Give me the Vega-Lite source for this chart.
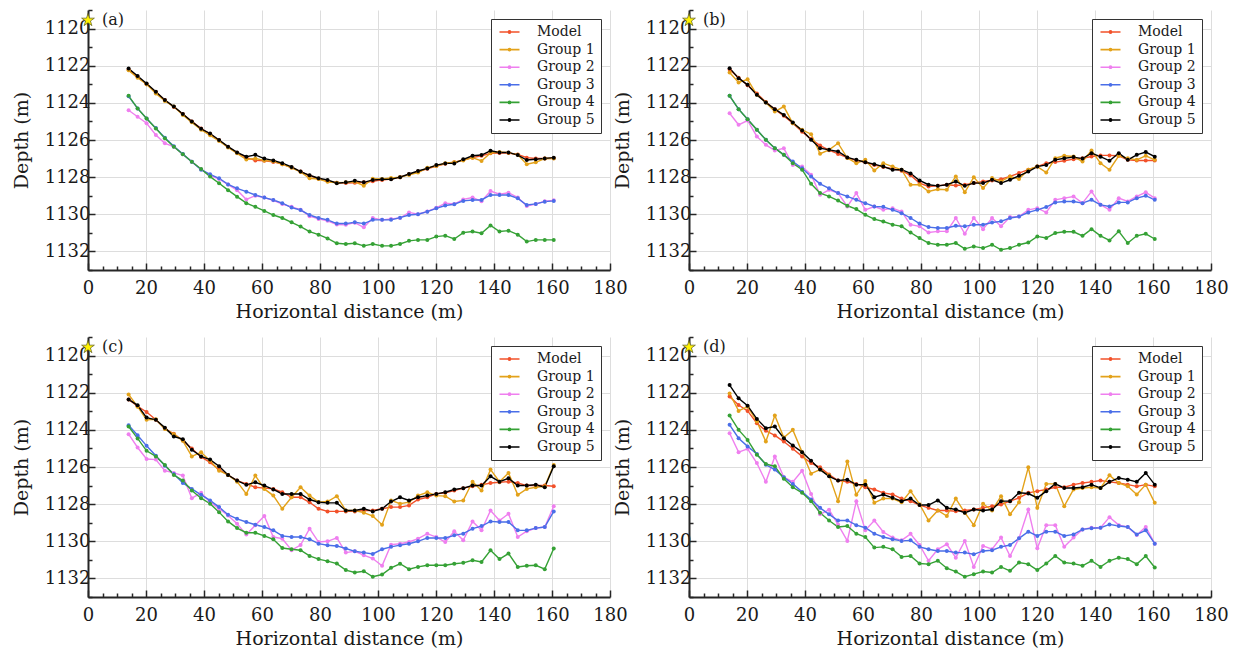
{
"$schema":"https://vega.github.io/schema/vega-lite/v6.json",
"background":"white",
"padding":{"left":12,"top":1,"right":5,"bottom":5},
"datasets":{
"src":[{"p":"a","x":0,"y":1119.55,"label":"(a)"},{"p":"b","x":0,"y":1119.55,"label":"(b)"},{"p":"c","x":0,"y":1119.55,"label":"(c)"},{"p":"d","x":0,"y":1119.55,"label":"(d)"}],
"curves":[
{"p":"a","x":14.0,"m":1122.2,"g1":1122.25,"g2":1124.4,"g3":1123.65,"g4":1123.62,"g5":1122.15},
{"p":"a","x":17.1,"m":1122.6,"g1":1122.65,"g2":1124.75,"g3":1124.3,"g4":1124.3,"g5":1122.55},
{"p":"a","x":20.2,"m":1123.0,"g1":1123.0,"g2":1125.1,"g3":1124.84,"g4":1124.84,"g5":1122.96},
{"p":"a","x":23.4,"m":1123.42,"g1":1123.5,"g2":1125.73,"g3":1125.36,"g4":1125.38,"g5":1123.4},
{"p":"a","x":26.5,"m":1123.85,"g1":1123.9,"g2":1126.18,"g3":1125.88,"g4":1125.9,"g5":1123.85},
{"p":"a","x":29.6,"m":1124.22,"g1":1124.2,"g2":1126.36,"g3":1126.34,"g4":1126.36,"g5":1124.2},
{"p":"a","x":32.7,"m":1124.6,"g1":1124.65,"g2":1126.77,"g3":1126.76,"g4":1126.77,"g5":1124.6},
{"p":"a","x":35.8,"m":1125.0,"g1":1125.05,"g2":1127.17,"g3":1127.17,"g4":1127.17,"g5":1125.0},
{"p":"a","x":39.0,"m":1125.38,"g1":1125.45,"g2":1127.58,"g3":1127.6,"g4":1127.56,"g5":1125.4},
{"p":"a","x":42.1,"m":1125.68,"g1":1125.75,"g2":1127.9,"g3":1127.85,"g4":1127.97,"g5":1125.65},
{"p":"a","x":45.2,"m":1126.02,"g1":1126.05,"g2":1128.1,"g3":1128.06,"g4":1128.33,"g5":1126.0},
{"p":"a","x":48.3,"m":1126.38,"g1":1126.4,"g2":1128.4,"g3":1128.39,"g4":1128.7,"g5":1126.36},
{"p":"a","x":51.4,"m":1126.68,"g1":1126.72,"g2":1128.7,"g3":1128.6,"g4":1129.05,"g5":1126.67},
{"p":"a","x":54.6,"m":1126.95,"g1":1127.05,"g2":1129.2,"g3":1128.78,"g4":1129.4,"g5":1126.9},
{"p":"a","x":57.7,"m":1127.1,"g1":1127.0,"g2":1129.0,"g3":1128.96,"g4":1129.6,"g5":1126.8},
{"p":"a","x":60.8,"m":1127.12,"g1":1127.1,"g2":1129.1,"g3":1129.1,"g4":1129.82,"g5":1127.0},
{"p":"a","x":63.9,"m":1127.18,"g1":1127.15,"g2":1129.25,"g3":1129.23,"g4":1130.04,"g5":1127.1},
{"p":"a","x":67.0,"m":1127.3,"g1":1127.3,"g2":1129.45,"g3":1129.4,"g4":1130.2,"g5":1127.25},
{"p":"a","x":70.2,"m":1127.48,"g1":1127.5,"g2":1129.6,"g3":1129.64,"g4":1130.43,"g5":1127.45},
{"p":"a","x":73.3,"m":1127.7,"g1":1127.72,"g2":1129.75,"g3":1129.77,"g4":1130.66,"g5":1127.7},
{"p":"a","x":76.4,"m":1127.92,"g1":1128.06,"g2":1130.1,"g3":1130.04,"g4":1130.93,"g5":1127.9},
{"p":"a","x":79.5,"m":1128.08,"g1":1128.1,"g2":1130.25,"g3":1130.2,"g4":1131.1,"g5":1128.06},
{"p":"a","x":82.6,"m":1128.22,"g1":1128.25,"g2":1130.35,"g3":1130.3,"g4":1131.3,"g5":1128.15},
{"p":"a","x":85.8,"m":1128.3,"g1":1128.3,"g2":1130.55,"g3":1130.5,"g4":1131.56,"g5":1128.33},
{"p":"a","x":88.9,"m":1128.32,"g1":1128.28,"g2":1130.57,"g3":1130.5,"g4":1131.6,"g5":1128.28},
{"p":"a","x":92.0,"m":1128.3,"g1":1128.25,"g2":1130.45,"g3":1130.43,"g4":1131.56,"g5":1128.2},
{"p":"a","x":95.1,"m":1128.28,"g1":1128.46,"g2":1130.7,"g3":1130.5,"g4":1131.7,"g5":1128.28},
{"p":"a","x":98.2,"m":1128.22,"g1":1128.08,"g2":1130.2,"g3":1130.3,"g4":1131.6,"g5":1128.15},
{"p":"a","x":101.4,"m":1128.15,"g1":1128.1,"g2":1130.3,"g3":1130.3,"g4":1131.7,"g5":1128.12},
{"p":"a","x":104.5,"m":1128.1,"g1":1128.05,"g2":1130.25,"g3":1130.3,"g4":1131.7,"g5":1128.12},
{"p":"a","x":107.6,"m":1128.0,"g1":1128.0,"g2":1130.2,"g3":1130.18,"g4":1131.6,"g5":1128.0},
{"p":"a","x":110.7,"m":1127.85,"g1":1127.88,"g2":1129.9,"g3":1130.04,"g4":1131.43,"g5":1127.83},
{"p":"a","x":113.8,"m":1127.7,"g1":1127.75,"g2":1130.0,"g3":1130.0,"g4":1131.38,"g5":1127.67},
{"p":"a","x":117.0,"m":1127.55,"g1":1127.5,"g2":1129.85,"g3":1129.86,"g4":1131.38,"g5":1127.53},
{"p":"a","x":120.1,"m":1127.4,"g1":1127.4,"g2":1129.65,"g3":1129.68,"g4":1131.2,"g5":1127.35},
{"p":"a","x":123.2,"m":1127.28,"g1":1127.25,"g2":1129.4,"g3":1129.53,"g4":1131.15,"g5":1127.26},
{"p":"a","x":126.3,"m":1127.2,"g1":1127.2,"g2":1129.45,"g3":1129.46,"g4":1131.33,"g5":1127.26},
{"p":"a","x":129.4,"m":1127.08,"g1":1127.1,"g2":1129.2,"g3":1129.28,"g4":1130.99,"g5":1127.04},
{"p":"a","x":132.6,"m":1126.95,"g1":1126.95,"g2":1129.1,"g3":1129.23,"g4":1130.93,"g5":1126.85},
{"p":"a","x":135.7,"m":1126.85,"g1":1127.13,"g2":1129.3,"g3":1129.23,"g4":1131.02,"g5":1126.81},
{"p":"a","x":138.8,"m":1126.72,"g1":1126.7,"g2":1128.75,"g3":1128.96,"g4":1130.6,"g5":1126.58},
{"p":"a","x":141.9,"m":1126.7,"g1":1126.65,"g2":1128.92,"g3":1128.96,"g4":1130.93,"g5":1126.67},
{"p":"a","x":145.0,"m":1126.7,"g1":1126.68,"g2":1128.84,"g3":1128.96,"g4":1130.88,"g5":1126.67},
{"p":"a","x":148.2,"m":1126.78,"g1":1126.8,"g2":1129.1,"g3":1129.14,"g4":1131.1,"g5":1126.81},
{"p":"a","x":151.3,"m":1126.95,"g1":1127.3,"g2":1129.55,"g3":1129.5,"g4":1131.47,"g5":1127.08},
{"p":"a","x":154.4,"m":1127.0,"g1":1127.2,"g2":1129.45,"g3":1129.44,"g4":1131.38,"g5":1127.04},
{"p":"a","x":157.5,"m":1127.0,"g1":1127.0,"g2":1129.3,"g3":1129.32,"g4":1131.38,"g5":1126.99},
{"p":"a","x":160.6,"m":1126.98,"g1":1127.0,"g2":1129.25,"g3":1129.28,"g4":1131.38,"g5":1126.95},
{"p":"b","x":14.0,"m":1122.2,"g1":1122.37,"g2":1124.56,"g3":1123.62,"g4":1123.62,"g5":1122.13},
{"p":"b","x":17.1,"m":1122.65,"g1":1122.9,"g2":1125.18,"g3":1124.34,"g4":1124.34,"g5":1122.67},
{"p":"b","x":20.2,"m":1123.05,"g1":1122.73,"g2":1124.95,"g3":1124.88,"g4":1124.88,"g5":1123.03},
{"p":"b","x":23.4,"m":1123.5,"g1":1123.57,"g2":1125.81,"g3":1125.45,"g4":1125.45,"g5":1123.57},
{"p":"b","x":26.5,"m":1123.95,"g1":1123.98,"g2":1126.26,"g3":1125.99,"g4":1125.99,"g5":1123.98},
{"p":"b","x":29.6,"m":1124.35,"g1":1124.47,"g2":1126.56,"g3":1126.44,"g4":1126.44,"g5":1124.34},
{"p":"b","x":32.7,"m":1124.7,"g1":1124.2,"g2":1126.45,"g3":1126.8,"g4":1126.8,"g5":1124.65},
{"p":"b","x":35.8,"m":1125.1,"g1":1125.1,"g2":1127.34,"g3":1127.16,"g4":1127.25,"g5":1125.06},
{"p":"b","x":39.0,"m":1125.55,"g1":1125.45,"g2":1127.43,"g3":1127.52,"g4":1127.6,"g5":1125.49},
{"p":"b","x":42.1,"m":1125.95,"g1":1125.69,"g2":1127.87,"g3":1127.96,"g4":1128.36,"g5":1125.99},
{"p":"b","x":45.2,"m":1126.3,"g1":1126.74,"g2":1128.95,"g3":1128.36,"g4":1128.86,"g5":1126.44},
{"p":"b","x":48.3,"m":1126.55,"g1":1126.53,"g2":1128.68,"g3":1128.6,"g4":1129.04,"g5":1126.53},
{"p":"b","x":51.4,"m":1126.75,"g1":1126.17,"g2":1128.86,"g3":1128.86,"g4":1129.26,"g5":1126.62},
{"p":"b","x":54.6,"m":1126.95,"g1":1126.97,"g2":1129.58,"g3":1129.04,"g4":1129.54,"g5":1126.94},
{"p":"b","x":57.7,"m":1127.1,"g1":1127.25,"g2":1128.86,"g3":1129.22,"g4":1129.72,"g5":1127.07},
{"p":"b","x":60.8,"m":1127.2,"g1":1127.07,"g2":1129.76,"g3":1129.4,"g4":1130.03,"g5":1127.2},
{"p":"b","x":63.9,"m":1127.35,"g1":1127.64,"g2":1129.58,"g3":1129.58,"g4":1130.26,"g5":1127.3},
{"p":"b","x":67.0,"m":1127.45,"g1":1127.25,"g2":1129.76,"g3":1129.6,"g4":1130.39,"g5":1127.43},
{"p":"b","x":70.2,"m":1127.55,"g1":1127.43,"g2":1129.67,"g3":1129.76,"g4":1130.56,"g5":1127.6},
{"p":"b","x":73.3,"m":1127.65,"g1":1127.6,"g2":1129.85,"g3":1129.94,"g4":1130.65,"g5":1127.6},
{"p":"b","x":76.4,"m":1127.9,"g1":1128.41,"g2":1130.56,"g3":1130.2,"g4":1130.98,"g5":1127.8},
{"p":"b","x":79.5,"m":1128.32,"g1":1128.41,"g2":1130.65,"g3":1130.5,"g4":1131.28,"g5":1128.18},
{"p":"b","x":82.6,"m":1128.5,"g1":1128.77,"g2":1130.98,"g3":1130.69,"g4":1131.55,"g5":1128.41},
{"p":"b","x":85.8,"m":1128.47,"g1":1128.65,"g2":1130.92,"g3":1130.74,"g4":1131.64,"g5":1128.47},
{"p":"b","x":88.9,"m":1128.41,"g1":1128.68,"g2":1130.92,"g3":1130.74,"g4":1131.64,"g5":1128.41},
{"p":"b","x":92.0,"m":1128.45,"g1":1127.96,"g2":1130.2,"g3":1130.62,"g4":1131.55,"g5":1128.23},
{"p":"b","x":95.1,"m":1128.41,"g1":1128.82,"g2":1131.05,"g3":1130.65,"g4":1131.86,"g5":1128.47},
{"p":"b","x":98.2,"m":1128.32,"g1":1128.0,"g2":1130.2,"g3":1130.56,"g4":1131.73,"g5":1128.32},
{"p":"b","x":101.4,"m":1128.23,"g1":1128.59,"g2":1130.8,"g3":1130.56,"g4":1131.82,"g5":1128.32},
{"p":"b","x":104.5,"m":1128.18,"g1":1128.05,"g2":1130.2,"g3":1130.44,"g4":1131.64,"g5":1128.14},
{"p":"b","x":107.6,"m":1128.11,"g1":1128.23,"g2":1130.65,"g3":1130.38,"g4":1131.91,"g5":1128.32},
{"p":"b","x":110.7,"m":1127.96,"g1":1127.96,"g2":1130.15,"g3":1130.2,"g4":1131.82,"g5":1128.14},
{"p":"b","x":113.8,"m":1127.78,"g1":1128.1,"g2":1130.12,"g3":1130.12,"g4":1131.64,"g5":1127.93},
{"p":"b","x":117.0,"m":1127.6,"g1":1127.6,"g2":1129.76,"g3":1129.9,"g4":1131.52,"g5":1127.7},
{"p":"b","x":120.1,"m":1127.43,"g1":1127.43,"g2":1129.67,"g3":1129.76,"g4":1131.19,"g5":1127.43},
{"p":"b","x":123.2,"m":1127.25,"g1":1127.75,"g2":1129.9,"g3":1129.61,"g4":1131.28,"g5":1127.34},
{"p":"b","x":126.3,"m":1127.19,"g1":1126.98,"g2":1129.22,"g3":1129.36,"g4":1131.01,"g5":1127.07},
{"p":"b","x":129.4,"m":1127.12,"g1":1126.85,"g2":1129.13,"g3":1129.31,"g4":1130.94,"g5":1126.98},
{"p":"b","x":132.6,"m":1127.03,"g1":1126.89,"g2":1129.04,"g3":1129.31,"g4":1130.94,"g5":1126.92},
{"p":"b","x":135.7,"m":1126.98,"g1":1127.16,"g2":1129.4,"g3":1129.4,"g4":1131.16,"g5":1127.0},
{"p":"b","x":138.8,"m":1126.89,"g1":1126.56,"g2":1128.77,"g3":1129.22,"g4":1130.8,"g5":1126.71},
{"p":"b","x":141.9,"m":1126.83,"g1":1127.25,"g2":1129.49,"g3":1129.49,"g4":1131.16,"g5":1126.9},
{"p":"b","x":145.0,"m":1126.83,"g1":1127.6,"g2":1129.76,"g3":1129.58,"g4":1131.41,"g5":1127.12},
{"p":"b","x":148.2,"m":1126.85,"g1":1126.85,"g2":1129.13,"g3":1129.36,"g4":1130.92,"g5":1126.71},
{"p":"b","x":151.3,"m":1127.07,"g1":1126.98,"g2":1129.31,"g3":1129.36,"g4":1131.55,"g5":1127.07},
{"p":"b","x":154.4,"m":1127.1,"g1":1127.07,"g2":1129.04,"g3":1129.13,"g4":1131.16,"g5":1126.8},
{"p":"b","x":157.5,"m":1127.1,"g1":1126.85,"g2":1128.82,"g3":1129.0,"g4":1131.05,"g5":1126.65},
{"p":"b","x":160.6,"m":1127.1,"g1":1127.07,"g2":1129.13,"g3":1129.22,"g4":1131.33,"g5":1126.9},
{"p":"c","x":14.0,"m":1122.36,"g1":1122.09,"g2":1124.23,"g3":1123.75,"g4":1123.82,"g5":1122.36},
{"p":"c","x":17.1,"m":1122.73,"g1":1122.75,"g2":1124.95,"g3":1124.29,"g4":1124.46,"g5":1122.68},
{"p":"c","x":20.2,"m":1123.04,"g1":1123.46,"g2":1125.57,"g3":1124.86,"g4":1125.13,"g5":1123.34},
{"p":"c","x":23.4,"m":1123.46,"g1":1123.43,"g2":1125.6,"g3":1125.39,"g4":1125.43,"g5":1123.46},
{"p":"c","x":26.5,"m":1123.93,"g1":1123.96,"g2":1126.2,"g3":1125.93,"g4":1125.89,"g5":1123.88},
{"p":"c","x":29.6,"m":1124.21,"g1":1124.23,"g2":1126.32,"g3":1126.38,"g4":1126.43,"g5":1124.36},
{"p":"c","x":32.7,"m":1124.57,"g1":1124.59,"g2":1126.46,"g3":1126.86,"g4":1126.73,"g5":1124.5},
{"p":"c","x":35.8,"m":1125.0,"g1":1125.43,"g2":1127.68,"g3":1127.18,"g4":1127.27,"g5":1125.07},
{"p":"c","x":39.0,"m":1125.46,"g1":1125.21,"g2":1127.39,"g3":1127.5,"g4":1127.68,"g5":1125.43},
{"p":"c","x":42.1,"m":1125.75,"g1":1125.66,"g2":1127.89,"g3":1127.8,"g4":1127.98,"g5":1125.6},
{"p":"c","x":45.2,"m":1126.14,"g1":1126.2,"g2":1128.25,"g3":1128.16,"g4":1128.43,"g5":1125.96},
{"p":"c","x":48.3,"m":1126.43,"g1":1126.43,"g2":1128.61,"g3":1128.57,"g4":1128.93,"g5":1126.43},
{"p":"c","x":51.4,"m":1126.73,"g1":1126.79,"g2":1129.05,"g3":1128.79,"g4":1129.29,"g5":1126.73},
{"p":"c","x":54.6,"m":1126.91,"g1":1127.45,"g2":1129.64,"g3":1128.96,"g4":1129.54,"g5":1126.96},
{"p":"c","x":57.7,"m":1127.09,"g1":1126.46,"g2":1129.14,"g3":1129.11,"g4":1129.54,"g5":1126.82},
{"p":"c","x":60.8,"m":1127.14,"g1":1127.18,"g2":1128.64,"g3":1129.23,"g4":1129.71,"g5":1127.0},
{"p":"c","x":63.9,"m":1127.18,"g1":1127.54,"g2":1129.77,"g3":1129.41,"g4":1129.89,"g5":1127.21},
{"p":"c","x":67.0,"m":1127.36,"g1":1128.25,"g2":1129.86,"g3":1129.71,"g4":1130.36,"g5":1127.45},
{"p":"c","x":70.2,"m":1127.63,"g1":1127.63,"g2":1130.48,"g3":1129.77,"g4":1130.43,"g5":1127.45},
{"p":"c","x":73.3,"m":1127.63,"g1":1127.09,"g2":1130.2,"g3":1129.77,"g4":1130.48,"g5":1127.45},
{"p":"c","x":76.4,"m":1127.9,"g1":1127.54,"g2":1129.32,"g3":1129.89,"g4":1130.79,"g5":1127.75},
{"p":"c","x":79.5,"m":1128.25,"g1":1127.89,"g2":1130.04,"g3":1130.13,"g4":1130.96,"g5":1127.9},
{"p":"c","x":82.6,"m":1128.39,"g1":1127.86,"g2":1130.0,"g3":1130.21,"g4":1131.07,"g5":1127.93},
{"p":"c","x":85.8,"m":1128.39,"g1":1127.57,"g2":1129.82,"g3":1130.25,"g4":1131.2,"g5":1127.93},
{"p":"c","x":88.9,"m":1128.39,"g1":1128.34,"g2":1130.61,"g3":1130.39,"g4":1131.55,"g5":1128.34},
{"p":"c","x":92.0,"m":1128.39,"g1":1128.34,"g2":1130.54,"g3":1130.54,"g4":1131.68,"g5":1128.34},
{"p":"c","x":95.1,"m":1128.34,"g1":1128.46,"g2":1130.75,"g3":1130.61,"g4":1131.61,"g5":1128.25},
{"p":"c","x":98.2,"m":1128.34,"g1":1128.64,"g2":1130.93,"g3":1130.68,"g4":1131.91,"g5":1128.39},
{"p":"c","x":101.4,"m":1128.25,"g1":1129.11,"g2":1131.32,"g3":1130.43,"g4":1131.79,"g5":1128.25},
{"p":"c","x":104.5,"m":1128.16,"g1":1127.8,"g2":1130.18,"g3":1130.3,"g4":1131.43,"g5":1127.86},
{"p":"c","x":107.6,"m":1128.16,"g1":1127.98,"g2":1130.13,"g3":1130.21,"g4":1131.21,"g5":1127.63},
{"p":"c","x":110.7,"m":1128.07,"g1":1127.89,"g2":1130.04,"g3":1130.13,"g4":1131.5,"g5":1127.8},
{"p":"c","x":113.8,"m":1127.75,"g1":1127.54,"g2":1129.86,"g3":1130.0,"g4":1131.38,"g5":1127.63},
{"p":"c","x":117.0,"m":1127.63,"g1":1127.36,"g2":1129.59,"g3":1129.82,"g4":1131.29,"g5":1127.54},
{"p":"c","x":120.1,"m":1127.45,"g1":1127.54,"g2":1129.77,"g3":1129.82,"g4":1131.29,"g5":1127.45},
{"p":"c","x":123.2,"m":1127.39,"g1":1127.57,"g2":1130.04,"g3":1129.82,"g4":1131.29,"g5":1127.36},
{"p":"c","x":126.3,"m":1127.27,"g1":1127.86,"g2":1129.46,"g3":1129.68,"g4":1131.21,"g5":1127.21},
{"p":"c","x":129.4,"m":1127.14,"g1":1127.8,"g2":1129.95,"g3":1129.59,"g4":1131.16,"g5":1127.14},
{"p":"c","x":132.6,"m":1127.04,"g1":1126.79,"g2":1128.93,"g3":1129.32,"g4":1131.02,"g5":1127.0},
{"p":"c","x":135.7,"m":1126.96,"g1":1127.27,"g2":1129.41,"g3":1129.18,"g4":1131.11,"g5":1127.0},
{"p":"c","x":138.8,"m":1126.86,"g1":1126.14,"g2":1128.34,"g3":1128.93,"g4":1130.48,"g5":1126.5},
{"p":"c","x":141.9,"m":1126.82,"g1":1126.79,"g2":1128.88,"g3":1128.96,"g4":1130.96,"g5":1126.79},
{"p":"c","x":145.0,"m":1126.79,"g1":1126.32,"g2":1128.52,"g3":1128.96,"g4":1130.66,"g5":1126.61},
{"p":"c","x":148.2,"m":1126.86,"g1":1127.5,"g2":1129.77,"g3":1129.41,"g4":1131.38,"g5":1127.0},
{"p":"c","x":151.3,"m":1127.0,"g1":1127.18,"g2":1129.46,"g3":1129.41,"g4":1131.32,"g5":1127.0},
{"p":"c","x":154.4,"m":1127.0,"g1":1127.09,"g2":1129.29,"g3":1129.29,"g4":1131.29,"g5":1126.96},
{"p":"c","x":157.5,"m":1127.0,"g1":1127.04,"g2":1129.23,"g3":1129.23,"g4":1131.5,"g5":1127.09},
{"p":"c","x":160.6,"m":1127.04,"g1":1125.89,"g2":1128.11,"g3":1128.39,"g4":1130.39,"g5":1125.96},
{"p":"d","x":14.0,"m":1122.21,"g1":1122.04,"g2":1124.18,"g3":1123.73,"g4":1123.23,"g5":1121.59},
{"p":"d","x":17.1,"m":1122.66,"g1":1122.98,"g2":1125.2,"g3":1124.45,"g4":1124.0,"g5":1122.3},
{"p":"d","x":20.2,"m":1122.98,"g1":1122.75,"g2":1125.02,"g3":1124.89,"g4":1124.54,"g5":1122.7},
{"p":"d","x":23.4,"m":1123.64,"g1":1123.55,"g2":1125.79,"g3":1125.3,"g4":1125.34,"g5":1123.41},
{"p":"d","x":26.5,"m":1124.05,"g1":1124.63,"g2":1126.8,"g3":1125.88,"g4":1125.84,"g5":1123.91},
{"p":"d","x":29.6,"m":1124.3,"g1":1123.23,"g2":1125.43,"g3":1126.14,"g4":1125.96,"g5":1123.82},
{"p":"d","x":32.7,"m":1124.63,"g1":1124.41,"g2":1126.55,"g3":1126.55,"g4":1126.63,"g5":1124.45},
{"p":"d","x":35.8,"m":1125.02,"g1":1124.0,"g2":1126.8,"g3":1126.91,"g4":1127.09,"g5":1124.84},
{"p":"d","x":39.0,"m":1125.43,"g1":1125.2,"g2":1126.2,"g3":1127.34,"g4":1127.39,"g5":1125.2},
{"p":"d","x":42.1,"m":1125.79,"g1":1126.36,"g2":1127.45,"g3":1127.75,"g4":1127.84,"g5":1125.66},
{"p":"d","x":45.2,"m":1126.02,"g1":1126.14,"g2":1128.55,"g3":1128.2,"g4":1128.46,"g5":1126.14},
{"p":"d","x":48.3,"m":1126.41,"g1":1126.45,"g2":1128.3,"g3":1128.55,"g4":1128.88,"g5":1126.5},
{"p":"d","x":51.4,"m":1126.73,"g1":1127.84,"g2":1129.1,"g3":1128.88,"g4":1129.23,"g5":1126.73},
{"p":"d","x":54.6,"m":1126.8,"g1":1125.7,"g2":1129.98,"g3":1128.88,"g4":1129.18,"g5":1126.68},
{"p":"d","x":57.7,"m":1126.91,"g1":1127.5,"g2":1127.84,"g3":1129.13,"g4":1129.59,"g5":1126.95},
{"p":"d","x":60.8,"m":1127.09,"g1":1126.75,"g2":1129.4,"g3":1129.27,"g4":1129.77,"g5":1126.95},
{"p":"d","x":63.9,"m":1127.21,"g1":1127.93,"g2":1128.88,"g3":1129.59,"g4":1130.34,"g5":1127.63},
{"p":"d","x":67.0,"m":1127.39,"g1":1127.7,"g2":1129.5,"g3":1129.77,"g4":1130.3,"g5":1127.48},
{"p":"d","x":70.2,"m":1127.48,"g1":1127.7,"g2":1129.8,"g3":1129.89,"g4":1130.43,"g5":1127.66},
{"p":"d","x":73.3,"m":1127.7,"g1":1127.9,"g2":1129.95,"g3":1129.98,"g4":1130.84,"g5":1127.84},
{"p":"d","x":76.4,"m":1127.84,"g1":1127.3,"g2":1129.6,"g3":1129.95,"g4":1130.79,"g5":1127.7},
{"p":"d","x":79.5,"m":1128.05,"g1":1128.0,"g2":1130.2,"g3":1130.3,"g4":1131.2,"g5":1128.05},
{"p":"d","x":82.6,"m":1128.2,"g1":1128.88,"g2":1131.05,"g3":1130.43,"g4":1131.23,"g5":1128.05},
{"p":"d","x":85.8,"m":1128.34,"g1":1128.34,"g2":1130.43,"g3":1130.52,"g4":1131.05,"g5":1127.8},
{"p":"d","x":88.9,"m":1128.34,"g1":1128.64,"g2":1130.16,"g3":1130.52,"g4":1131.45,"g5":1128.2},
{"p":"d","x":92.0,"m":1128.38,"g1":1127.7,"g2":1130.88,"g3":1130.61,"g4":1131.63,"g5":1128.29},
{"p":"d","x":95.1,"m":1128.34,"g1":1128.46,"g2":1129.98,"g3":1130.61,"g4":1131.91,"g5":1128.46},
{"p":"d","x":98.2,"m":1128.29,"g1":1129.13,"g2":1131.38,"g3":1130.7,"g4":1131.77,"g5":1128.29},
{"p":"d","x":101.4,"m":1128.2,"g1":1127.98,"g2":1130.25,"g3":1130.52,"g4":1131.63,"g5":1128.34},
{"p":"d","x":104.5,"m":1128.11,"g1":1128.34,"g2":1130.43,"g3":1130.48,"g4":1131.68,"g5":1128.29},
{"p":"d","x":107.6,"m":1128.02,"g1":1127.57,"g2":1129.8,"g3":1130.3,"g4":1131.38,"g5":1127.84},
{"p":"d","x":110.7,"m":1127.84,"g1":1128.55,"g2":1130.79,"g3":1130.2,"g4":1131.59,"g5":1127.84},
{"p":"d","x":113.8,"m":1127.66,"g1":1127.9,"g2":1129.84,"g3":1129.84,"g4":1131.14,"g5":1127.39},
{"p":"d","x":117.0,"m":1127.39,"g1":1126.02,"g2":1128.29,"g3":1129.48,"g4":1131.23,"g5":1127.43},
{"p":"d","x":120.1,"m":1127.3,"g1":1128.2,"g2":1130.38,"g3":1129.71,"g4":1131.55,"g5":1127.66},
{"p":"d","x":123.2,"m":1127.21,"g1":1126.91,"g2":1129.13,"g3":1129.48,"g4":1131.2,"g5":1127.3},
{"p":"d","x":126.3,"m":1127.09,"g1":1126.91,"g2":1129.13,"g3":1129.48,"g4":1130.79,"g5":1126.91},
{"p":"d","x":129.4,"m":1127.09,"g1":1128.11,"g2":1130.3,"g3":1129.71,"g4":1131.14,"g5":1127.13},
{"p":"d","x":132.6,"m":1126.95,"g1":1127.21,"g2":1129.8,"g3":1129.63,"g4":1131.2,"g5":1127.13},
{"p":"d","x":135.7,"m":1126.86,"g1":1127.13,"g2":1129.36,"g3":1129.36,"g4":1131.32,"g5":1127.09},
{"p":"d","x":138.8,"m":1126.8,"g1":1127.09,"g2":1129.27,"g3":1129.3,"g4":1131.05,"g5":1126.95},
{"p":"d","x":141.9,"m":1126.73,"g1":1127.13,"g2":1129.27,"g3":1129.27,"g4":1131.38,"g5":1127.13},
{"p":"d","x":145.0,"m":1126.8,"g1":1126.45,"g2":1128.7,"g3":1129.09,"g4":1131.05,"g5":1126.8},
{"p":"d","x":148.2,"m":1126.86,"g1":1126.86,"g2":1129.13,"g3":1129.18,"g4":1130.88,"g5":1126.59},
{"p":"d","x":151.3,"m":1126.95,"g1":1127.04,"g2":1129.23,"g3":1129.23,"g4":1130.96,"g5":1126.68},
{"p":"d","x":154.4,"m":1127.04,"g1":1127.48,"g2":1129.66,"g3":1129.63,"g4":1131.23,"g5":1126.8},
{"p":"d","x":157.5,"m":1126.95,"g1":1126.95,"g2":1129.23,"g3":1129.41,"g4":1130.79,"g5":1126.32},
{"p":"d","x":160.6,"m":1127.04,"g1":1127.93,"g2":1130.13,"g3":1130.13,"g4":1131.41,"g5":1126.95}
]},
"columns":2,
"spacing":{"row":67,"column":79},
"bounds":"flush",
"resolve":{"scale":{"color":"independent"},"legend":{"color":"independent"}},
"concat":[
{"width":522,"height":260,
"encoding":{
"x":{"field":"x","type":"quantitative","scale":{"domain":[0,180],"nice":false,"zero":false},"axis":{"title":"Horizontal distance (m)","values":[0,5,10,15,20,25,30,35,40,45,50,55,60,65,70,75,80,85,90,95,100,105,110,115,120,125,130,135,140,145,150,155,160,165,170,175,180],"labelExpr":"datum.value % 20 === 0 ? datum.label : ''","tickSize":{"condition":{"test":"datum.value % 20 === 0","value":-7},"value":-4},"gridOpacity":{"condition":{"test":"datum.value % 20 === 0","value":1},"value":0}}},
"y":{"field":"y","type":"quantitative","scale":{"domain":[1119,1133],"reverse":true,"nice":false,"zero":false},"axis":{"title":"Depth (m)","format":"d","values":[1119,1119.5,1120,1120.5,1121,1121.5,1122,1122.5,1123,1123.5,1124,1124.5,1125,1125.5,1126,1126.5,1127,1127.5,1128,1128.5,1129,1129.5,1130,1130.5,1131,1131.5,1132,1132.5,1133],"labelExpr":"datum.value % 2 === 0 ? datum.label : ''","tickSize":{"condition":{"test":"datum.value % 2 === 0","value":-7},"value":-4},"gridOpacity":{"condition":{"test":"datum.value % 2 === 0","value":1},"value":0}}}},
"layer":[
{"data":{"name":"curves"},"transform":[{"filter":"datum.p === 'a'"},{"fold":["m","g1","g2","g3","g4","g5"],"as":["series","y"]}],"mark":{"type":"line","strokeWidth":1.4,"point":{"filled":true,"size":16}},"encoding":{"color":{"field":"series","type":"nominal","scale":{"domain":["m","g1","g2","g3","g4","g5"],"range":["#f2512a","#e3a21a","#ef7fef","#4a6ee8","#35a135","#000000"]},"legend":{"title":null,"labelExpr":"datum.label === 'm' ? 'Model' : 'Group ' + slice(datum.label, 1)"}}}},
{"data":{"name":"src"},"transform":[{"filter":"datum.p === 'a'"}],"mark":{"type":"point","shape":"M0,-1L0.2245,-0.309L0.951,-0.309L0.363,0.118L0.588,0.809L0,0.382L-0.588,0.809L-0.363,0.118L-0.951,-0.309L-0.2245,-0.309Z","filled":true,"fill":"#fff200","stroke":"#5a5a20","strokeWidth":0.7,"size":180,"opacity":1}},
{"data":{"name":"src"},"transform":[{"filter":"datum.p === 'a'"}],"mark":{"type":"text","align":"left","baseline":"middle","dx":14,"fontSize":16,"font":"DejaVu Serif","color":"#1a1a1a"},"encoding":{"text":{"field":"label"}}}
]},
{"width":522,"height":260,
"encoding":{
"x":{"field":"x","type":"quantitative","scale":{"domain":[0,180],"nice":false,"zero":false},"axis":{"title":"Horizontal distance (m)","values":[0,5,10,15,20,25,30,35,40,45,50,55,60,65,70,75,80,85,90,95,100,105,110,115,120,125,130,135,140,145,150,155,160,165,170,175,180],"labelExpr":"datum.value % 20 === 0 ? datum.label : ''","tickSize":{"condition":{"test":"datum.value % 20 === 0","value":-7},"value":-4},"gridOpacity":{"condition":{"test":"datum.value % 20 === 0","value":1},"value":0}}},
"y":{"field":"y","type":"quantitative","scale":{"domain":[1119,1133],"reverse":true,"nice":false,"zero":false},"axis":{"title":"Depth (m)","format":"d","values":[1119,1119.5,1120,1120.5,1121,1121.5,1122,1122.5,1123,1123.5,1124,1124.5,1125,1125.5,1126,1126.5,1127,1127.5,1128,1128.5,1129,1129.5,1130,1130.5,1131,1131.5,1132,1132.5,1133],"labelExpr":"datum.value % 2 === 0 ? datum.label : ''","tickSize":{"condition":{"test":"datum.value % 2 === 0","value":-7},"value":-4},"gridOpacity":{"condition":{"test":"datum.value % 2 === 0","value":1},"value":0}}}},
"layer":[
{"data":{"name":"curves"},"transform":[{"filter":"datum.p === 'b'"},{"fold":["m","g1","g2","g3","g4","g5"],"as":["series","y"]}],"mark":{"type":"line","strokeWidth":1.4,"point":{"filled":true,"size":16}},"encoding":{"color":{"field":"series","type":"nominal","scale":{"domain":["m","g1","g2","g3","g4","g5"],"range":["#f2512a","#e3a21a","#ef7fef","#4a6ee8","#35a135","#000000"]},"legend":{"title":null,"labelExpr":"datum.label === 'm' ? 'Model' : 'Group ' + slice(datum.label, 1)"}}}},
{"data":{"name":"src"},"transform":[{"filter":"datum.p === 'b'"}],"mark":{"type":"point","shape":"M0,-1L0.2245,-0.309L0.951,-0.309L0.363,0.118L0.588,0.809L0,0.382L-0.588,0.809L-0.363,0.118L-0.951,-0.309L-0.2245,-0.309Z","filled":true,"fill":"#fff200","stroke":"#5a5a20","strokeWidth":0.7,"size":180,"opacity":1}},
{"data":{"name":"src"},"transform":[{"filter":"datum.p === 'b'"}],"mark":{"type":"text","align":"left","baseline":"middle","dx":14,"fontSize":16,"font":"DejaVu Serif","color":"#1a1a1a"},"encoding":{"text":{"field":"label"}}}
]},
{"width":522,"height":260,
"encoding":{
"x":{"field":"x","type":"quantitative","scale":{"domain":[0,180],"nice":false,"zero":false},"axis":{"title":"Horizontal distance (m)","values":[0,5,10,15,20,25,30,35,40,45,50,55,60,65,70,75,80,85,90,95,100,105,110,115,120,125,130,135,140,145,150,155,160,165,170,175,180],"labelExpr":"datum.value % 20 === 0 ? datum.label : ''","tickSize":{"condition":{"test":"datum.value % 20 === 0","value":-7},"value":-4},"gridOpacity":{"condition":{"test":"datum.value % 20 === 0","value":1},"value":0}}},
"y":{"field":"y","type":"quantitative","scale":{"domain":[1119,1133],"reverse":true,"nice":false,"zero":false},"axis":{"title":"Depth (m)","format":"d","values":[1119,1119.5,1120,1120.5,1121,1121.5,1122,1122.5,1123,1123.5,1124,1124.5,1125,1125.5,1126,1126.5,1127,1127.5,1128,1128.5,1129,1129.5,1130,1130.5,1131,1131.5,1132,1132.5,1133],"labelExpr":"datum.value % 2 === 0 ? datum.label : ''","tickSize":{"condition":{"test":"datum.value % 2 === 0","value":-7},"value":-4},"gridOpacity":{"condition":{"test":"datum.value % 2 === 0","value":1},"value":0}}}},
"layer":[
{"data":{"name":"curves"},"transform":[{"filter":"datum.p === 'c'"},{"fold":["m","g1","g2","g3","g4","g5"],"as":["series","y"]}],"mark":{"type":"line","strokeWidth":1.4,"point":{"filled":true,"size":16}},"encoding":{"color":{"field":"series","type":"nominal","scale":{"domain":["m","g1","g2","g3","g4","g5"],"range":["#f2512a","#e3a21a","#ef7fef","#4a6ee8","#35a135","#000000"]},"legend":{"title":null,"labelExpr":"datum.label === 'm' ? 'Model' : 'Group ' + slice(datum.label, 1)"}}}},
{"data":{"name":"src"},"transform":[{"filter":"datum.p === 'c'"}],"mark":{"type":"point","shape":"M0,-1L0.2245,-0.309L0.951,-0.309L0.363,0.118L0.588,0.809L0,0.382L-0.588,0.809L-0.363,0.118L-0.951,-0.309L-0.2245,-0.309Z","filled":true,"fill":"#fff200","stroke":"#5a5a20","strokeWidth":0.7,"size":180,"opacity":1}},
{"data":{"name":"src"},"transform":[{"filter":"datum.p === 'c'"}],"mark":{"type":"text","align":"left","baseline":"middle","dx":14,"fontSize":16,"font":"DejaVu Serif","color":"#1a1a1a"},"encoding":{"text":{"field":"label"}}}
]},
{"width":522,"height":260,
"encoding":{
"x":{"field":"x","type":"quantitative","scale":{"domain":[0,180],"nice":false,"zero":false},"axis":{"title":"Horizontal distance (m)","values":[0,5,10,15,20,25,30,35,40,45,50,55,60,65,70,75,80,85,90,95,100,105,110,115,120,125,130,135,140,145,150,155,160,165,170,175,180],"labelExpr":"datum.value % 20 === 0 ? datum.label : ''","tickSize":{"condition":{"test":"datum.value % 20 === 0","value":-7},"value":-4},"gridOpacity":{"condition":{"test":"datum.value % 20 === 0","value":1},"value":0}}},
"y":{"field":"y","type":"quantitative","scale":{"domain":[1119,1133],"reverse":true,"nice":false,"zero":false},"axis":{"title":"Depth (m)","format":"d","values":[1119,1119.5,1120,1120.5,1121,1121.5,1122,1122.5,1123,1123.5,1124,1124.5,1125,1125.5,1126,1126.5,1127,1127.5,1128,1128.5,1129,1129.5,1130,1130.5,1131,1131.5,1132,1132.5,1133],"labelExpr":"datum.value % 2 === 0 ? datum.label : ''","tickSize":{"condition":{"test":"datum.value % 2 === 0","value":-7},"value":-4},"gridOpacity":{"condition":{"test":"datum.value % 2 === 0","value":1},"value":0}}}},
"layer":[
{"data":{"name":"curves"},"transform":[{"filter":"datum.p === 'd'"},{"fold":["m","g1","g2","g3","g4","g5"],"as":["series","y"]}],"mark":{"type":"line","strokeWidth":1.4,"point":{"filled":true,"size":16}},"encoding":{"color":{"field":"series","type":"nominal","scale":{"domain":["m","g1","g2","g3","g4","g5"],"range":["#f2512a","#e3a21a","#ef7fef","#4a6ee8","#35a135","#000000"]},"legend":{"title":null,"labelExpr":"datum.label === 'm' ? 'Model' : 'Group ' + slice(datum.label, 1)"}}}},
{"data":{"name":"src"},"transform":[{"filter":"datum.p === 'd'"}],"mark":{"type":"point","shape":"M0,-1L0.2245,-0.309L0.951,-0.309L0.363,0.118L0.588,0.809L0,0.382L-0.588,0.809L-0.363,0.118L-0.951,-0.309L-0.2245,-0.309Z","filled":true,"fill":"#fff200","stroke":"#5a5a20","strokeWidth":0.7,"size":180,"opacity":1}},
{"data":{"name":"src"},"transform":[{"filter":"datum.p === 'd'"}],"mark":{"type":"text","align":"left","baseline":"middle","dx":14,"fontSize":16,"font":"DejaVu Serif","color":"#1a1a1a"},"encoding":{"text":{"field":"label"}}}
]}
],
"config":{
"font":"DejaVu Serif",
"view":{"stroke":null},
"axis":{"labelFont":"DejaVu Serif","titleFont":"DejaVu Serif","labelFontSize":18,"titleFontSize":19,"titleFontWeight":"normal","labelColor":"#1a1a1a","titleColor":"#1a1a1a","domainColor":"#262626","domainWidth":2,"tickColor":"#262626","tickWidth":1.5,"gridColor":"#dddddd","gridWidth":1,"labelOverlap":false,"labelFlush":false,"labelBound":false},
"axisX":{"labelPadding":16,"titlePadding":2},
"axisY":{"labelPadding":5,"titlePadding":13},
"legend":{"orient":"top-right","offset":9,"padding":6,"strokeColor":"#333333","fillColor":"#ffffff","labelFont":"DejaVu Serif","labelFontSize":14,"labelColor":"#1a1a1a","rowPadding":3.6,"symbolType":"M-0.82,0H2.82M0.8,0A0.2,0.2 0 1 0 1.2,0A0.2,0.2 0 1 0 0.8,0","symbolSize":121,"symbolStrokeWidth":1.6,"labelOffset":26}
}
}
